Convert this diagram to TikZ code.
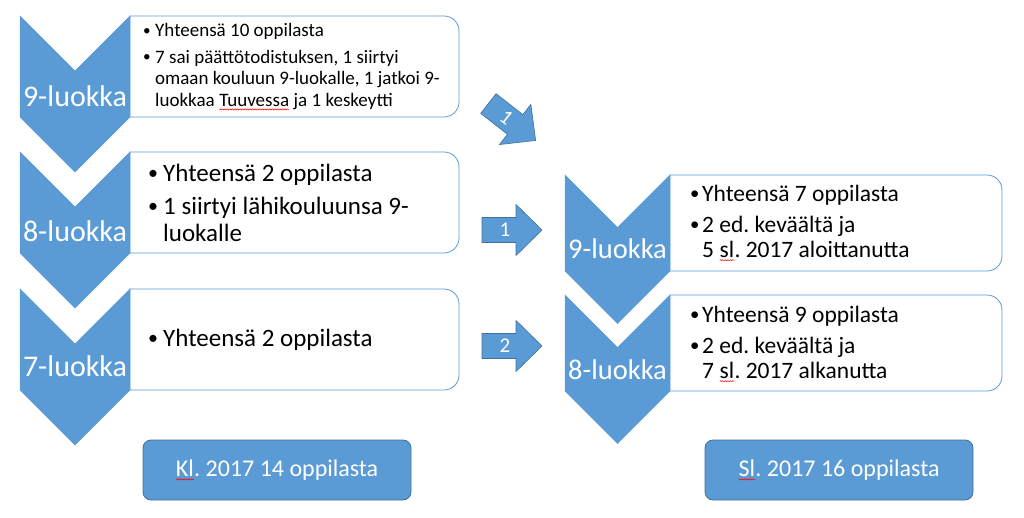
\documentclass[tikz,border=0pt]{standalone}
\usepackage{graphicx}
\usepackage{fontspec}
\setmainfont{Carlito}
\frenchspacing
\usetikzlibrary{decorations.pathmorphing}
\definecolor{acc}{HTML}{5B9BD5}
\definecolor{accd}{HTML}{41719C}
\newcommand{\bul}[1]{\makebox[#1][l]{\raisebox{0.08em}{\scalebox{0.8}{•}}}}
\newcommand{\spellerr}[1]{\tikz[baseline=(w.base),x=1cm,y=1cm,sharp corners]{\node[shape=rectangle,draw=none,fill=none,minimum width=0pt,minimum height=0pt,inner sep=0pt,outer sep=0pt,anchor=base,rotate=0](w) at (0,0){#1};\draw[red,line width=0.5pt,decorate,decoration={snake,amplitude=0.6pt,segment length=2.5pt}]([yshift=-3pt]w.base west)--([yshift=-3pt]w.base east);}}
\tikzset{
  infobox/.style={draw=acc,line width=0.8pt,rounded corners=15pt},
  chev/.style={fill=acc,draw=acc,line width=0.5pt},
  chevlabel/.style={text=white,inner sep=0pt,font=\fontsize{30}{32}\selectfont},
  chevlabelr/.style={text=white,inner sep=0pt,font=\fontsize{28.5}{30}\selectfont},
  barrow/.pic={\path[fill=acc,draw=accd,line width=0.6pt] (-30,-12.5) -- (4,-12.5) -- (4,-25.5) -- (30,0) -- (4,25.5) -- (4,12.5) -- (-30,12.5) -- cycle;},
  arrowlabel/.style={text=white,inner sep=0pt,font=\fontsize{21}{22}\selectfont},
  sumbox/.style={fill=acc,draw=accd,line width=0.8pt,rounded corners=8pt,minimum width=268pt,minimum height=60pt,text=white,font=\fontsize{24}{26}\selectfont},
  btext/.style={anchor=west,align=left,inner sep=0pt,text=black}
}
\begin{document}
\begin{tikzpicture}[x=1pt,y=-1pt]
\useasboundingbox (0,0) rectangle (1024,518);
% ---- left column boxes (left edge hidden by chevrons)
\draw[infobox] (130,16) -- (459,16) -- (459,117) -- (130,117);
\draw[infobox] (130,152) -- (459,152) -- (459,253) -- (130,253);
\draw[infobox] (130,289) -- (459,289) -- (459,390) -- (130,390);
% ---- left chevrons
\draw[chev] (20,16) -- (75,71) -- (130,16) -- (130,117) -- (75,172) -- (20,117) -- cycle;
\draw[chev] (20,152) -- (75,207) -- (130,152) -- (130,253) -- (75,308) -- (20,253) -- cycle;
\draw[chev] (20,289) -- (75,344) -- (130,289) -- (130,390) -- (75,445) -- (20,390) -- cycle;
\node[chevlabel] (c9) at (75,96) {9-luokka};
\node[chevlabel] (c8) at (75,231) {8-luokka};
\node[chevlabel] (c7) at (75,366) {7-luokka};
% ---- left texts
\node[btext,font=\fontsize{19}{21.5}\selectfont] (t9) at (143,67)
  {\bul{12pt}Yhteensä 10 oppilasta\\[5pt]
   \bul{12pt}7 sai päättötodistuksen, 1 siirtyi\\
   \hspace*{12pt}omaan kouluun 9-luokalle, 1 jatkoi 9-\\
   \hspace*{12pt}luokkaa \spellerr{Tuuvessa} ja 1 keskeytti};
\node[btext,font=\fontsize{25}{27}\selectfont] (t8) at (148,203)
  {\bul{15pt}Yhteensä 2 oppilasta\\[6pt]
   \bul{15pt}1 siirtyi lähikouluunsa 9-\\
   \hspace*{15pt}luokalle};
\node[btext,font=\fontsize{25}{27}\selectfont] (t7) at (148,340)
  {\bul{15pt}Yhteensä 2 oppilasta};
% ---- right column boxes
\draw[infobox] (670,175) -- (1002,175) -- (1002,271) -- (670,271);
\draw[infobox] (670,295) -- (1002,295) -- (1002,391) -- (670,391);
\draw[chev] (565,175) -- (617.5,227.5) -- (670,175) -- (670,271) -- (617.5,323.5) -- (565,271) -- cycle;
\draw[chev] (565,295) -- (617.5,347.5) -- (670,295) -- (670,391) -- (617.5,443.5) -- (565,391) -- cycle;
\node[chevlabelr] (r9) at (617.5,249) {9-luokka};
\node[chevlabelr] (r8) at (617.5,370) {8-luokka};
\node[btext,font=\fontsize{23.5}{25}\selectfont] (s9) at (690,223)
  {\bul{12pt}Yhteensä 7 oppilasta\\[6pt]
   \bul{12pt}2 ed. keväältä ja\\
   \hspace*{12pt}5 \spellerr{sl}. 2017 aloittanutta};
\node[btext,font=\fontsize{23.5}{25}\selectfont] (s8) at (690,344)
  {\bul{12pt}Yhteensä 9 oppilasta\\[6pt]
   \bul{12pt}2 ed. keväältä ja\\
   \hspace*{12pt}7 \spellerr{sl}. 2017 alkanutta};
% ---- block arrows
\pic[rotate=-38] (ad) at (512,122) {barrow};
\pic (a1) at (512,230) {barrow};
\pic (a2) at (512,346) {barrow};
\node[arrowlabel,rotate=-38] (ld) at (506.5,117.7) {1};
\node[arrowlabel] (l1) at (505,230) {1};
\node[arrowlabel] (l2) at (505,346) {2};
% ---- summary boxes
\node[sumbox] (kl) at (277,470) {\spellerr{Kl}. 2017 14 oppilasta};
\node[sumbox] (sl) at (839,470) {\spellerr{Sl}. 2017 16 oppilasta};
\end{tikzpicture}
\end{document}
